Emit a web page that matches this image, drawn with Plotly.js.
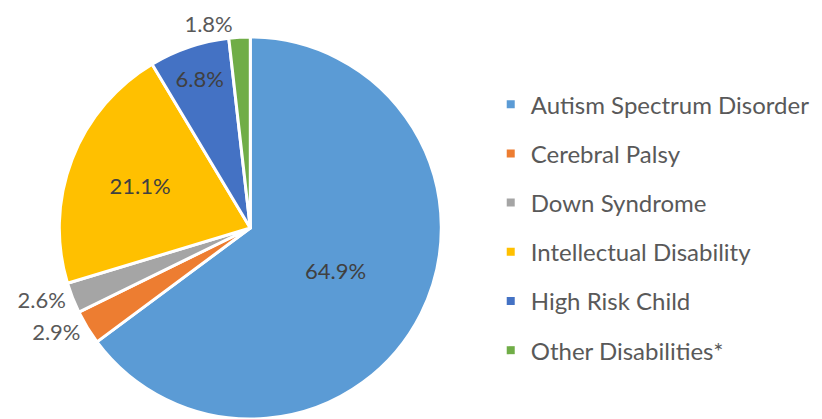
<!DOCTYPE html>
<html>
<head>
<meta charset="utf-8">
<script src="https://cdn.plot.ly/plotly-3.0.1.min.js"></script>
<style>html,body{margin:0;padding:0;background:#fff;}#chart{width:822px;height:419px;}</style>
</head>
<body>
<div id="chart"></div>
<script>
const categories = ["Autism Spectrum Disorder", "Cerebral Palsy", "Down Syndrome", "Intellectual Disability", "High Risk Child", "Other Disabilities*"];
const percents = [64.9, 2.9, 2.6, 21.1, 6.8, 1.8];
const colors = ["#5B9BD5", "#ED7D31", "#A5A5A5", "#FFC000", "#4472C4", "#70AD47"];
const labelPositions = ["inside", "outside", "outside", "inside", "inside", "outside"];

const FONT = "Lato, 'Open Sans', sans-serif";

const pie = {
  type: "pie",
  labels: categories,
  values: percents,
  text: percents.map(v => v.toFixed(1) + "%"),
  textinfo: "text",
  textposition: labelPositions,
  insidetextorientation: "horizontal",
  sort: false,
  direction: "clockwise",
  rotation: 0,
  marker: {colors: colors, line: {color: "#ffffff", width: 3}},
  insidetextfont: {family: FONT, size: 22, color: "#404040"},
  outsidetextfont: {family: FONT, size: 22, color: "#595959"},
  showlegend: false,
  hoverinfo: "label+text",
  domain: {x: [0.072, 0.537], y: [0, 1]}
};

const legendTraces = categories.map((c, i) => ({
  type: "scatter",
  mode: "markers",
  x: [null], y: [null],
  name: c,
  legendgroup: "g" + i,
  marker: {symbol: "square", size: 8, color: colors[i]},
  showlegend: true,
  hoverinfo: "skip"
}));

const layout = {
  width: 822, height: 419,
  margin: {l: 0, r: 0, t: 37, b: 0},
  paper_bgcolor: "#ffffff",
  plot_bgcolor: "rgba(0,0,0,0)",
  xaxis: {visible: false, domain: [0.99, 1]},
  yaxis: {visible: false, domain: [0.99, 1]},
  showlegend: true,
  legend: {
    x: 0.597, y: 0.882, xanchor: "left", yanchor: "top",
    font: {family: FONT, size: 24, color: "#595959"},
    traceorder: "grouped",
    tracegroupgap: 15,
    itemwidth: 30,
    bgcolor: "rgba(0,0,0,0)"
  }
};

Plotly.newPlot("chart", [pie].concat(legendTraces), layout, {displayModeBar: false, staticPlot: true});
</script>
</body>
</html>
